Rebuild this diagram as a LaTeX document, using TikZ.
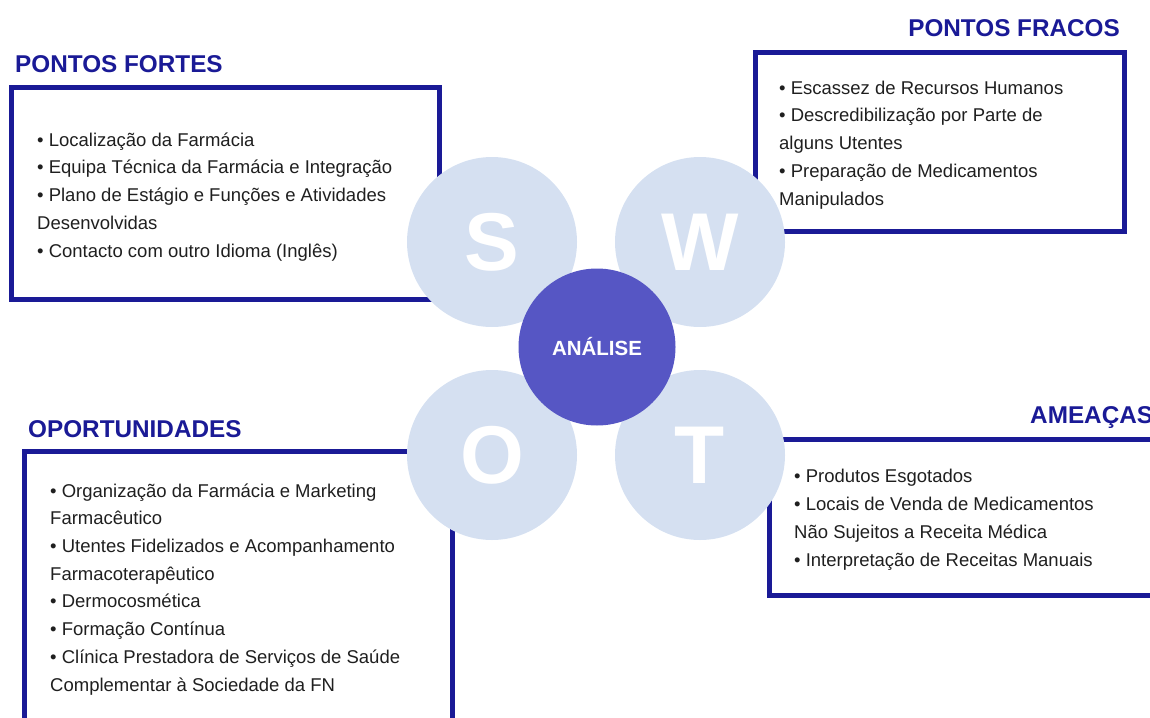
\documentclass[tikz,border=0pt]{standalone}
\usepackage{fontspec}
\setmainfont{Liberation Sans}
\usetikzlibrary{positioning}
\definecolor{navy}{HTML}{1A1A96}
\definecolor{petal}{HTML}{D5E0F1}
\definecolor{core}{HTML}{5656C4}
\tikzset{
  frame/.style={draw=navy,line width=5pt},
  petal/.style={circle,fill=petal,minimum size=170pt,inner sep=0pt,text=white,font=\fontsize{82}{82}\selectfont\bfseries},
  hub/.style={circle,fill=core,minimum size=157pt,inner sep=0pt,text=white,font=\fontsize{20.5}{24}\selectfont\bfseries},
  heading/.style={inner sep=0pt,text=navy,font=\fontsize{24.3}{30}\selectfont\bfseries},
  items/.style={inner sep=0pt,align=left,text=black!88,font=\fontsize{18.5}{27.7}\selectfont}
}

\begin{document}
\begin{tikzpicture}[x=1pt,y=-1pt]
  \useasboundingbox (0,0) rectangle (1150,717);
  \clip (0,0) rectangle (1150,717);

  % frames of the four quadrants
  \draw[frame] (11,87.5) rectangle (439,299);
  \draw[frame] (755.5,52.5) rectangle (1124.5,231);
  \draw[frame] (24,451.5) rectangle (452.5,740);
  \draw[frame] (769.5,439) rectangle (1170,595);

  % the flower
  \node[petal] (s) at (492,242) {S};
  \node[petal] (w) at (700,242) {W};
  \node[petal] (o) at (492,455) {O};
  \node[petal] (t) at (700,455) {T};
  \node[hub] (hub) at (597,347) {ANÁLISE};

  % headings
  \node[heading,anchor=base west] (fortes) at (15,72) {PONTOS FORTES};
  \node[heading,anchor=base east] (fracos) at (1120,37) {PONTOS FRACOS};
  \node[heading,anchor=base west] (oport) at (28,437) {OPORTUNIDADES};
  \node[heading,anchor=base west] (ameacas) at (1030,423) {AMEAÇAS};

  % lists (base = baseline of the last line)
  \node[items,anchor=base west] (fortesitems) at (37,257) {%
    • Localização da Farmácia\\
    • Equipa Técnica da Farmácia e Integração\\
    • Plano de Estágio e Funções e Atividades\\
    Desenvolvidas\\
    • Contacto com outro Idioma (Inglês)};
  \node[items,anchor=base west] (fracositems) at (779,205) {%
    • Escassez de Recursos Humanos\\
    • Descredibilização por Parte de\\
    alguns Utentes\\
    • Preparação de Medicamentos\\
    Manipulados};
  \node[items,anchor=base west] (oportitems) at (50,691) {%
    • Organização da Farmácia e Marketing\\
    Farmacêutico\\
    • Utentes Fidelizados e Acompanhamento\\
    Farmacoterapêutico\\
    • Dermocosmética\\
    • Formação Contínua\\
    • Clínica Prestadora de Serviços de Saúde\\
    Complementar à Sociedade da FN};
  \node[items,anchor=base west] (ameacasitems) at (794,566) {%
    • Produtos Esgotados\\
    • Locais de Venda de Medicamentos\\
    Não Sujeitos a Receita Médica\\
    • Interpretação de Receitas Manuais};
\end{tikzpicture}
\end{document}
